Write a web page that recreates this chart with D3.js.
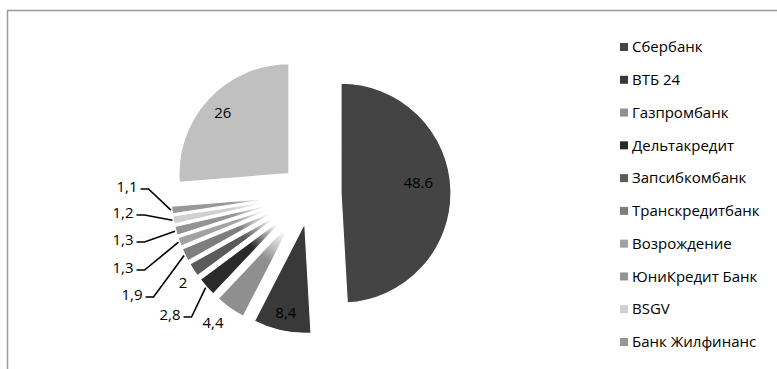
<!DOCTYPE html>
<html>
<head>
<meta charset="utf-8">
<script src="https://cdn.jsdelivr.net/npm/d3@7"></script>
<style>
  body { margin: 0; background: #fff; }
  text { font-family: "Open Sans", sans-serif; }
</style>
</head>
<body>
<div id="chart"></div>
<script>
// data
const banks = ["Сбербанк", "ВТБ 24", "Газпромбанк", "Дельтакредит", "Запсибкомбанк",
               "Транскредитбанк", "Возрождение", "ЮниКредит Банк", "BSGV", "Банк Жилфинанс", "Прочие"];
const shares = [48.6, 8.4, 4.4, 2.8, 2, 1.9, 1.3, 1.3, 1.2, 1.1, 26];
const shareLabels = ["48.6", "8,4", "4,4", "2,8", "2", "1,9", "1,3", "1,3", "1,2", "1,1", "26"];
const legendCount = 10; // legend in the picture is cut after 10 rows

const grays = ["#444444", "#393939", "#8f8f8f", "#2a2a2a", "#5a5a5a", "#7e7e7e",
               "#a2a2a2", "#939393", "#d0d0d0", "#989898", "#c0c0c0"];

const width = 777, height = 369;
const cx = 311, cy = 194, radius = 110, explode = 30;

// where the labels go: inside ones by polar offset from slice tip, outside ones in a column
const insideLab = {0: [78, -6], 1: [91, 0], 10: [90, 0]};
const outsideLab = {2: [213, 323], 3: [170, 315], 4: [183, 283], 5: [132, 295],
                    6: [123, 268], 7: [123, 240], 8: [123, 213], 9: [127, 187]};
const withLeader = [3, 5, 6, 7, 8, 9];

const svg = d3.select("#chart").append("svg")
    .attr("width", width).attr("height", height);

// frame (only top and left are visible)
svg.append("path")
    .attr("d", "M7.5," + height + "V10.5H" + width)
    .attr("fill", "none").attr("stroke", "#9a9a9a").attr("stroke-width", 1.5);

const pie = d3.pie().sort(null).value(d => d);
const arc = d3.arc().innerRadius(0).outerRadius(radius);
const arcs = pie(shares);

function mid(d) { return (d.startAngle + d.endAngle) / 2; }
function shift(d) {
    const a = mid(d);
    return [cx + explode * Math.sin(a), cy - explode * Math.cos(a)];
}

// thin slices fade out toward their tip, like in the scan
const defs = svg.append("defs");
arcs.forEach(function (d, i) {
    const g = defs.append("radialGradient")
        .attr("id", "fade" + i)
        .attr("gradientUnits", "userSpaceOnUse")
        .attr("cx", 0).attr("cy", 0).attr("r", radius);
    const thin = shares[i] < 5;
    g.append("stop").attr("offset", 0).attr("stop-color", thin ? "#fff" : grays[i]);
    g.append("stop").attr("offset", thin ? 0.15 : 0).attr("stop-color", thin ? "#fff" : grays[i]);
    g.append("stop").attr("offset", thin ? 0.45 : 0.01).attr("stop-color", grays[i]);
    g.append("stop").attr("offset", 1).attr("stop-color", grays[i]);
});

const pieG = svg.append("g");
pieG.selectAll("path").data(arcs)
    .enter().append("path")
    .attr("d", arc)
    .attr("fill", (d, i) => "url(#fade" + i + ")")
    .attr("stroke", "#fff").attr("stroke-width", 1.2)
    .attr("transform", d => "translate(" + shift(d) + ")");

// inside labels
arcs.forEach(function (d, i) {
    if (!(i in insideLab)) return;
    const p = shift(d);
    const r = insideLab[i][0];
    const a = mid(d) + insideLab[i][1] * Math.PI / 180;
    svg.append("text")
        .attr("x", p[0] + r * Math.sin(a))
        .attr("y", p[1] - r * Math.cos(a))
        .attr("dy", "0.35em")
        .attr("text-anchor", "middle")
        .attr("font-size", "15px")
        .attr("fill", "#000")
        .text(shareLabels[i]);
});

// outside labels + leader lines
arcs.forEach(function (d, i) {
    if (!(i in outsideLab)) return;
    const pos = outsideLab[i];
    const t = svg.append("text")
        .attr("x", pos[0]).attr("y", pos[1])
        .attr("dy", "0.35em")
        .attr("text-anchor", "middle")
        .attr("font-size", "15px")
        .attr("fill", "#000")
        .text(shareLabels[i]);
    if (withLeader.indexOf(i) < 0) return;
    const w = t.node().getComputedTextLength();
    const p = shift(d);
    const a = mid(d);
    const ex = p[0] + (radius + 1) * Math.sin(a);
    const ey = p[1] - (radius + 1) * Math.cos(a);
    const sx = pos[0] + w / 2 + 3, sy = pos[1] + 2;
    svg.append("path")
        .attr("d", "M" + sx + "," + sy + "H" + (sx + 8) + "L" + ex + "," + ey)
        .attr("fill", "none").attr("stroke", "#000").attr("stroke-width", 1.6);
});

// legend
const legY = d3.scalePoint().domain(banks.slice(0, legendCount)).range([47, 342]);
const legend = svg.append("g").selectAll(".legend")
    .data(banks.slice(0, legendCount))
    .enter().append("g").attr("class", "legend");

legend.append("rect")
    .attr("x", 620)
    .attr("y", d => legY(d) - 4)
    .attr("width", 8).attr("height", 8)
    .attr("fill", (d, i) => grays[i]);

legend.append("text")
    .attr("x", 632)
    .attr("y", d => legY(d))
    .attr("dy", "0.35em")
    .attr("font-size", "15px")
    .attr("fill", "#000")
    .text(d => d);
</script>
</body>
</html>
